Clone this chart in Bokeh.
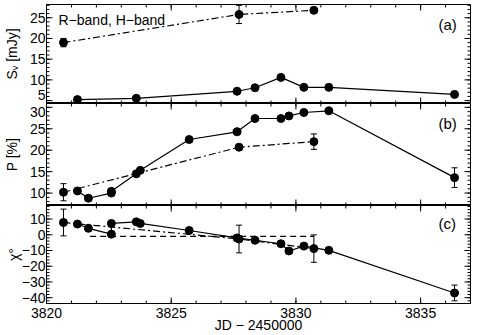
import math
from bokeh.plotting import figure
from bokeh.layouts import column
from bokeh.models import Range1d, FixedTicker, ColumnDataSource, Whisker, TeeHead, Label
from bokeh.embed import file_html
from bokeh.resources import INLINE

# ---------------- data ----------------
# Panel (a): flux density S_nu [mJy]
ra_x = [3821.24, 3823.60, 3827.64, 3828.36, 3829.40, 3830.32, 3831.32, 3836.36]
ra_y = [5.25, 5.55, 7.25, 8.1, 10.6, 8.2, 8.2, 6.5]
ha_x = [3820.68, 3827.72, 3830.72]
ha_y = [19.0, 25.8, 26.8]
ha_err = [1.0, 2.2, 0.7]

# Panel (b): polarization P [%]
rb_x = [3821.24, 3821.68, 3822.60, 3822.60, 3823.60, 3823.76, 3825.72, 3827.64,
        3828.36, 3829.40, 3829.72, 3830.32, 3831.32, 3836.36]
rb_y = [10.5, 8.8, 10.0, 10.4, 14.5, 15.3, 22.5, 24.3, 27.4, 27.4, 28.0, 28.8, 29.2, 13.6]
rb_err = [0.3, 0.3, 0.3, 0.3, 0.3, 0.3, 0.3, 0.3, 0.3, 0.3, 0.3, 0.3, 0.3, 2.3]
hb_x = [3820.68, 3827.72, 3830.72]
hb_y = [10.2, 20.7, 22.0]
hb_err = [2.0, 0.5, 1.8]

# Panel (c): polarization angle chi [deg]
rc_x = rb_x
rc_y = [6.8, 4.1, 0.4, 7.2, 8.2, 7.2, 2.7, -2.0, -3.5, -5.7, -10.3, -7.2, -9.9, -37.0]
rc_err = [0.5, 0.5, 0.5, 0.5, 0.5, 0.5, 0.5, 0.5, 0.5, 0.5, 0.5, 0.5, 0.5, 5.0]
hc_x = [3820.68, 3827.72, 3830.72]
hc_y = [7.8, -2.7, -8.8]
hc_err = [8.5, 8.8, 8.7]
dash_x = [3821.75, 3830.72]
dash_y = [-1.0, -1.0]

# tick values and their labels
x_ticks = [3820, 3825, 3830, 3835]
x_minor = list(range(3820, 3838))
a_ticks, a_minor = [5, 10, 15, 20, 25], list(range(5, 29))
b_ticks, b_minor = [10, 15, 20, 25, 30], list(range(8, 31))
c_ticks, c_minor = [-40, -30, -20, -10, 0, 10], list(range(-42, 19, 2))
a_labels = {6.3: "5", 10: "10", 15: "15", 20: "20", 25: "25"}
b_labels = {10: "10", 15: "15", 20: "20", 25: "25", 29.0: "30"}
c_labels = {-40: "\u221240", -30: "\u221230", -20: "\u221220", -10: "\u221210", 0: "0", 10: "10"}

FONT = "Liberation Sans"
FS = "14px"
XLO, XHI = 3820, 3837
xr = Range1d(XLO, XHI)


def style_axis(ax, fs=FS):
    ax.major_tick_in = 0
    ax.major_tick_out = 0
    ax.minor_tick_in = 0
    ax.minor_tick_out = 0
    ax.axis_line_color = "black"
    ax.major_label_text_font = FONT
    ax.major_label_text_font_size = fs
    ax.major_label_text_color = "black"
    ax.major_label_standoff = 1
    ax.axis_label_text_font = FONT
    ax.axis_label_text_font_style = "normal"
    ax.axis_label_text_font_size = fs
    ax.axis_label_text_color = "black"


def tick_marks(p, ylo, yhi, yt, ym):
    kw = dict(marker="dash", line_color="black", line_width=1)
    for yy in (ylo, yhi):
        p.scatter(x=x_ticks, y=[yy] * len(x_ticks), size=12, angle=math.pi / 2, **kw)
        p.scatter(x=x_minor, y=[yy] * len(x_minor), size=6, angle=math.pi / 2, **kw)
    for xx in (XLO, XHI):
        p.scatter(x=[xx] * len(yt), y=yt, size=12, angle=0, **kw)
        p.scatter(x=[xx] * len(ym), y=ym, size=6, angle=0, **kw)


def panel(ylo, yhi, yt, ym, labels, height, btop, bbottom, ylabel, tag, last, ystandoff):
    p = figure(width=480, height=height, x_range=xr, y_range=Range1d(ylo, yhi),
               output_backend="svg", toolbar_location=None,
               min_border_left=43, min_border_right=10,
               min_border_top=btop, min_border_bottom=bbottom)
    p.grid.visible = False
    p.outline_line_color = "black"
    p.background_fill_color = "white"
    p.border_fill_color = "white"
    p.yaxis.ticker = FixedTicker(ticks=list(labels.keys()), minor_ticks=[])
    style_axis(p.yaxis[0])
    p.yaxis.axis_label = ylabel
    p.yaxis.axis_label_standoff = ystandoff
    p.yaxis.major_label_overrides = labels
    if last:
        p.xaxis.ticker = FixedTicker(ticks=x_ticks, minor_ticks=[])
        style_axis(p.xaxis[0])
        p.xaxis.major_label_standoff = 4
        p.xaxis.axis_label = "JD \u2212 2450000"
        p.xaxis.axis_label_standoff = -4
    else:
        p.xaxis.visible = False
    tick_marks(p, ylo, yhi, yt, ym)
    fh = height - btop - bbottom
    p.add_layout(Label(x=392, y=fh - 20, x_units="screen", y_units="screen",
                       text=tag, text_font=FONT, text_font_size="15px", text_color="black",
                       text_baseline="middle"))
    return p


def draw(p, x, y, err, dash):
    src = ColumnDataSource(dict(x=x, y=y, lo=[a - b for a, b in zip(y, err)],
                                hi=[a + b for a, b in zip(y, err)]))
    p.line("x", "y", source=src, line_color="black", line_width=1.2, line_dash=dash)
    p.add_layout(Whisker(source=src, base="x", lower="lo", upper="hi", dimension="height",
                         line_color="black", line_width=1,
                         upper_head=TeeHead(size=6, line_color="black", line_width=1),
                         lower_head=TeeHead(size=6, line_color="black", line_width=1)))
    p.scatter("x", "y", source=src, size=8, fill_color="black", line_color="black")


DASHDOT = "7 3 2 3"

pa = panel(4.3, 28.2, a_ticks, a_minor, a_labels, 103, 4, 0,
           "S\u1d65 [mJy]", "(a)", False, 7)
draw(pa, ra_x, ra_y, [0.0] * len(ra_x), "solid")
draw(pa, ha_x, ha_y, ha_err, DASHDOT)
pa.add_layout(Label(x=12, y=84, x_units="screen", y_units="screen",
                    text="R\u2212band, H\u2212band", text_font=FONT, text_font_size="14px",
                    text_color="black", text_baseline="middle"))

pb = panel(7.1, 30.9, b_ticks, b_minor, b_labels, 102, 0, 0,
           "P [%]", "(b)", False, 7)
draw(pb, rb_x, rb_y, rb_err, "solid")
draw(pb, hb_x, hb_y, hb_err, DASHDOT)

pc = panel(-43.7, 18.6, c_ticks, c_minor, c_labels, 130, 0, 30,
           "\u03c7\u00b0", "(c)", True, -3)
pc.line(dash_x, dash_y, line_color="black", line_width=1.2, line_dash="6 4")
draw(pc, rc_x, rc_y, rc_err, "solid")
draw(pc, hc_x, hc_y, hc_err, DASHDOT)

layout = column(pa, pb, pc, spacing=0)
open("out.html", "w").write(file_html(layout, INLINE))
